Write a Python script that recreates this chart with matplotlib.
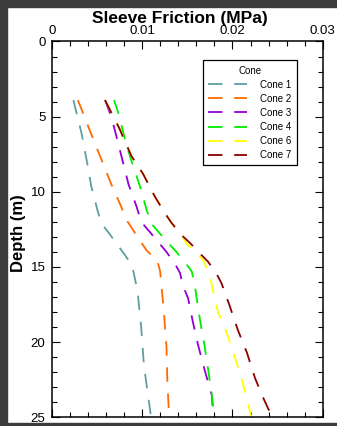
import matplotlib
matplotlib.use("Agg")
import matplotlib.pyplot as plt
from matplotlib.patches import Rectangle
from matplotlib.ticker import MultipleLocator

plt.rcParams['font.family'] = ['Liberation Sans', 'DejaVu Sans']

# sleeve friction profiles (MPa) vs depth (m)
cone1_depth = [3.9, 6.1, 8.0, 9.7, 11.3, 12.1, 12.8, 14.2, 14.9, 16.6, 19.0, 21.5, 23.3, 25.0]
cone1_fs = [0.0024, 0.0033, 0.0039, 0.0044, 0.0051, 0.0055, 0.0064, 0.0081, 0.0089, 0.0095, 0.0099, 0.0102, 0.0106, 0.0110]

cone2_depth = [3.9, 6.2, 9.5, 11.0, 11.9, 13.9, 14.6, 15.3, 17.9, 20.3, 22.7, 25.0]
cone2_fs = [0.0029, 0.0044, 0.0066, 0.0077, 0.0083, 0.0105, 0.0117, 0.0120, 0.0124, 0.0127, 0.0128, 0.0130]

cone3_depth = [3.9, 5.0, 6.4, 9.5, 11.0, 12.0, 12.7, 14.0, 14.75, 15.4, 16.2, 17.1, 18.6, 20.2, 21.8, 23.5, 25.0]
cone3_fs = [0.0059, 0.0066, 0.0072, 0.0085, 0.0094, 0.0099, 0.0109, 0.0127, 0.0136, 0.0142, 0.0145, 0.0151, 0.0156, 0.0162, 0.0169, 0.0177, 0.0179]

cone4_depth = [3.9, 4.8, 6.5, 7.9, 9.7, 11.2, 12.1, 12.8, 13.4, 14.0, 14.65, 15.3, 16.1, 18.5, 20.2, 21.8, 23.4, 25.0]
cone4_fs = [0.0069, 0.0074, 0.0081, 0.0088, 0.0098, 0.0105, 0.0110, 0.0120, 0.0129, 0.0138, 0.0147, 0.0155, 0.0158, 0.0164, 0.0169, 0.0173, 0.0177, 0.0180]

cone6_depth = [3.9, 5.8, 7.6, 8.8, 10.3, 11.4, 12.1, 12.9, 13.5, 14.0, 14.6, 15.6, 16.4, 18.0, 19.1, 20.7, 22.4, 24.5, 25.0]
cone6_fs = [0.0059, 0.0075, 0.0088, 0.0101, 0.0114, 0.0125, 0.0133, 0.0144, 0.0150, 0.0160, 0.0168, 0.0175, 0.0178, 0.0184, 0.0192, 0.0201, 0.0210, 0.0219, 0.0221]

cone7_depth = [3.9, 5.8, 7.6, 8.8, 10.3, 11.4, 12.1, 12.9, 13.4, 14.1, 14.65, 15.4, 16.1, 17.6, 19.2, 20.7, 22.4, 23.7, 25.0]
cone7_fs = [0.0059, 0.0075, 0.0088, 0.0101, 0.0114, 0.0125, 0.0133, 0.0144, 0.0153, 0.0164, 0.0173, 0.0182, 0.0188, 0.0197, 0.0206, 0.0216, 0.0225, 0.0234, 0.0244]

labels = ['Cone 1', 'Cone 2', 'Cone 3', 'Cone 4', 'Cone 6', 'Cone 7']
colors = ['#5f9ea0', '#ff6a00', '#9400d3', '#00ee00', '#ffff00', '#8b0000']

fig = plt.figure(figsize=(3.37, 4.26), dpi=100)
ax = fig.add_axes([0.1534, 0.0204, 0.8046, 0.8822])

series = [(cone1_fs, cone1_depth), (cone2_fs, cone2_depth), (cone3_fs, cone3_depth),
          (cone4_fs, cone4_depth), (cone6_fs, cone6_depth), (cone7_fs, cone7_depth)]
for (fs, d), lab, c in zip(series, labels, colors):
    ax.plot(fs, d, color=c, lw=1.3, dashes=(8, 6.5), label=lab)

ax.set_xlim(0, 0.03)
ax.set_ylim(25, 0)
ax.xaxis.set_major_locator(MultipleLocator(0.01))
ax.xaxis.set_minor_locator(MultipleLocator(0.002))
ax.yaxis.set_major_locator(MultipleLocator(5))
ax.yaxis.set_minor_locator(MultipleLocator(1))
ax.set_xticks([0, 0.01, 0.02, 0.03])
ax.set_xticklabels(['0', '0.01', '0.02', '0.03'])

ax.tick_params(which='both', direction='in', top=True, right=True,
               labeltop=True, labelbottom=False, width=0.8, colors='black')
ax.tick_params(which='major', length=5.8, labelsize=9.5)
ax.tick_params(axis='x', which='major', pad=3)
ax.tick_params(axis='y', which='major', pad=4.5)
ax.tick_params(which='minor', length=3.6)
for s in ax.spines.values():
    s.set_linewidth(1.1)

ax.xaxis.set_label_position('top')
ax.set_xlabel('Sleeve Friction (MPa)', fontsize=12.5, fontweight='bold')
ax.xaxis.set_label_coords(0.472, 1.05)
ax.set_ylabel('Depth (m)', fontsize=12, fontweight='bold')
ax.yaxis.set_label_coords(-0.095, 0.491)

leg = ax.legend(title='Cone', loc='upper right', bbox_to_anchor=(0.905, 0.95),
                borderaxespad=0, fontsize=7, title_fontsize=7, handlelength=4.0,
                handletextpad=1.4, labelspacing=0.42, fancybox=False,
                edgecolor='black', framealpha=1, borderpad=0.55)
leg.get_frame().set_linewidth(0.9)

# dark frame around the image
frame = '#3c3c3c'
fig.patches.append(Rectangle((0, 0), 7 / 337, 1, transform=fig.transFigure, color=frame, zorder=-1))
fig.patches.append(Rectangle((0, 1 - 7 / 426), 1, 7 / 426, transform=fig.transFigure, color=frame, zorder=-1))
fig.patches.append(Rectangle((0, 0), 1, 3 / 426, transform=fig.transFigure, color=frame, zorder=-1))

fig.savefig('out.png', dpi=100)
